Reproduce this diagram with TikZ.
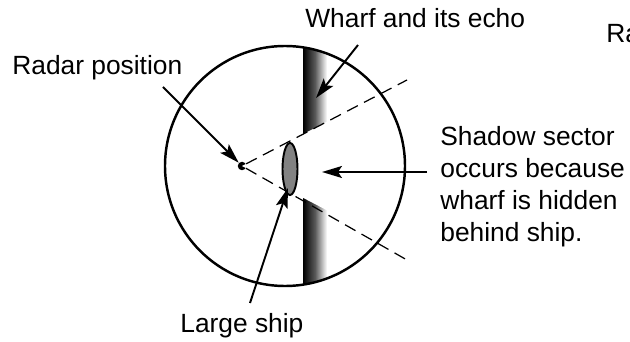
\documentclass[tikz,border=0pt]{standalone}
\usepackage{fontspec}
\setmainfont{Liberation Sans}
\usetikzlibrary{shapes.geometric, arrows.meta, positioning}
\definecolor{shipgray}{RGB}{130,130,130}
\tikzset{
  txt/.style={font=\fontsize{15}{18.4}\selectfont, inner sep=0pt, anchor=base west},
  pointer/.style={-{Stealth[length=0.4cm, width=0.24cm, inset=0.08cm]}, line width=1.1pt},
  ray/.style={dash pattern=on 0.24cm off 0.14cm, line width=0.7pt},
  shipnode/.style={ellipse, draw, fill=shipgray, minimum width=0.3cm,
    minimum height=1.04cm, inner sep=0pt, line width=1.1pt},
  dotnode/.style={circle, fill=black, minimum size=0.17cm, inner sep=0pt}
}

\begin{document}
\begin{tikzpicture}[x=0.02cm, y=0.02cm]
  \useasboundingbox (0,0) rectangle (630,342);
  \coordinate (c) at (285,176);
  \node[dotnode] (radar) at (242,176) {};
  \coordinate (rayup) at (407,262);
  \coordinate (raydown) at (407,82);
  % wharf echo, cut away inside the shadow sector
  \begin{scope}
    \clip (c) circle[radius=120];
    \shade[left color=black, right color=white, middle color=black!65] (303,40) rectangle (327,310);
    \fill[white] (radar.center) -- (572,348) -- (572,4) -- cycle;
  \end{scope}
  \draw[line width=1.4pt] (c) circle[radius=120];
  \draw[ray] (radar) -- (rayup);
  \draw[ray] (radar) -- (raydown);
  \node[shipnode] (ship) at (290,173) {};

  \node[txt] (radarlbl) at (12,267) {Radar position};
  \node[txt] (wharflbl) at (305,314) {Wharf and its echo};
  \node[txt] (ralbl) at (606,299) {Ra};
  \node[txt] (shiplbl) at (180,10) {Large ship};
  \node[txt, align=left] (shadowlbl) at (440,100) {Shadow sector\\occurs because\\wharf is hidden\\behind ship.};

  \coordinate (radarfrom) at (163,255);
  \coordinate (wharffrom) at (358,297);
  \coordinate (wharfto) at (316,244);
  \coordinate (shadowfrom) at (427,170);
  \coordinate (shadowto) at (322,170);
  \coordinate (shipfrom) at (250,39);
  \coordinate (shipto) at (288,154);
  \draw[pointer] (radarfrom) -- (radar);
  \draw[pointer] (wharffrom) -- (wharfto);
  \draw[pointer] (shadowfrom) -- (shadowto);
  \draw[pointer] (shipfrom) -- (shipto);
\end{tikzpicture}
\end{document}
